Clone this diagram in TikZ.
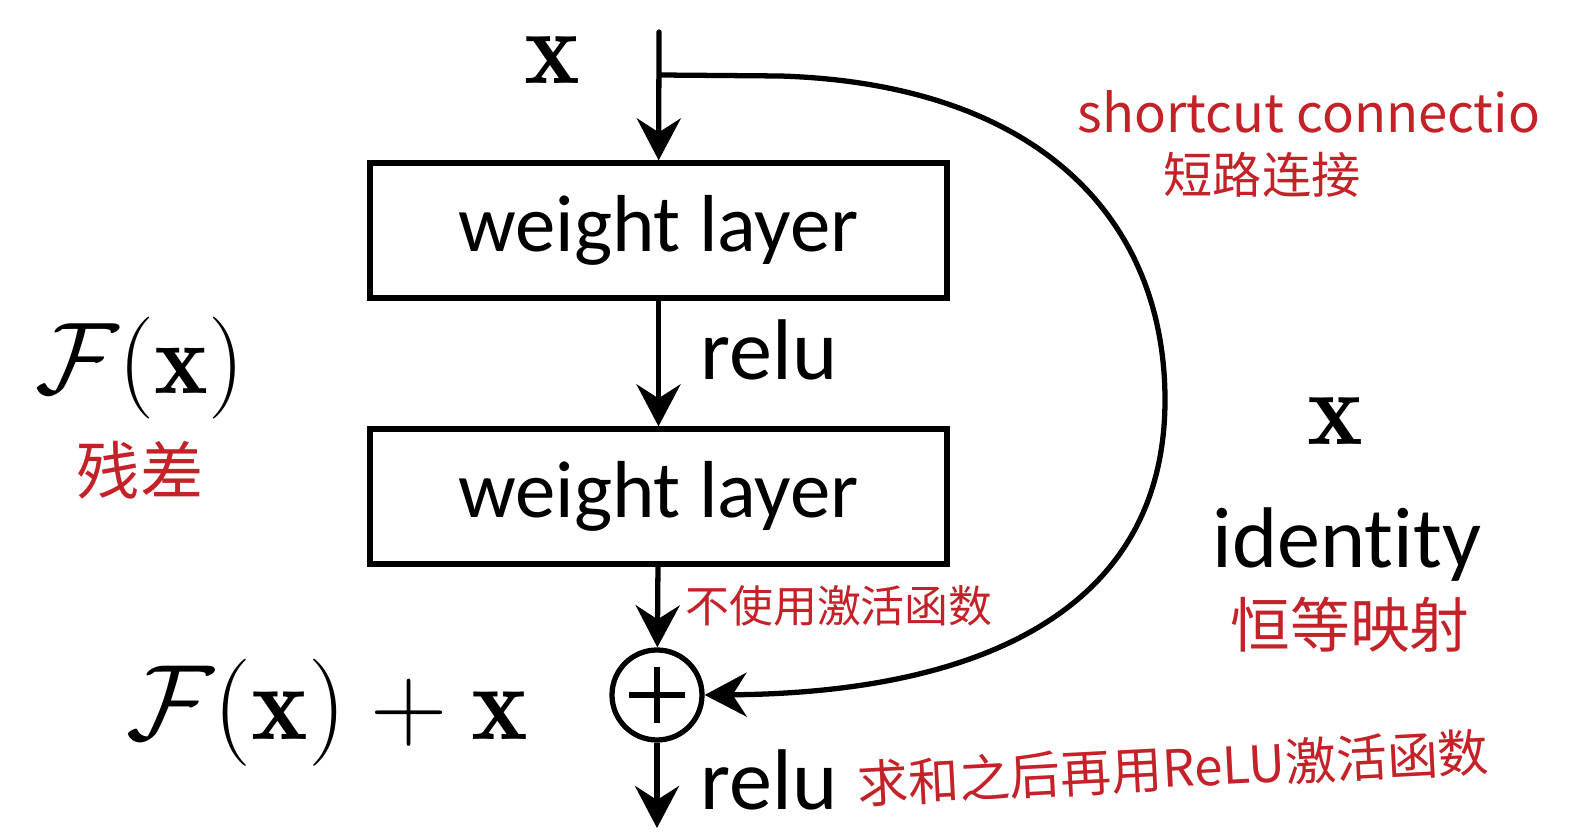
\RequirePackage{fix-cm}
\documentclass[tikz,border=0pt]{standalone}
\usepackage{fontspec}
\setsansfont{Carlito}[Ligatures={NoCommon,NoDiscretionary}]
\newfontfamily\cjk{Noto Sans CJK SC}
\usetikzlibrary{arrows.meta}
\definecolor{NoteRed}{HTML}{C42229}
\begin{document}
\begin{tikzpicture}[x=0.1mm,y=-0.1mm,
    wire/.style={line width=1.5pt},
    flow/.style={wire,-{Stealth[length=4.2mm,width=4.4mm,inset=1.4mm]}},
    layer/.style={draw,line width=1.5pt,minimum width=57.7mm,minimum height=13.5mm,font=\sffamily\fontsize{23}{28}\selectfont},
    note/.style={NoteRed,inner sep=0pt},
    lbl/.style={inner sep=0pt}]
        \useasboundingbox (0,0) rectangle (1571,840);
        \node[layer] (w1) at (658.5,230.5) {weight layer};
        \node[layer] (w2) at (658.5,496.5) {weight layer};
        \node[draw,circle,wire,minimum size=9mm,inner sep=0pt] (sum) at (657,695) {};
        \draw[wire] (sum.center) ++(-28,0) -- ++(56,0);
        \draw[wire] (sum.center) ++(0,-28) -- ++(0,56);
        \coordinate (in) at (659,32);
        \coordinate (split) at (659,75);
        \coordinate (out) at (657,828);
        \draw[flow,line cap=round] (in) -- (w1);
        \draw[flow] (w1) -- (w2);
        \draw[flow] (w2) -- (sum);
        \draw[flow] (sum) -- (out);
        \draw[flow] (split) -- (780,76) .. controls (1040,84) and (1165,220) .. (1165,400) .. controls (1165,610) and (980,693) .. (sum.east);
        % labels
        \node[lbl,font=\fontsize{30}{34}\selectfont] (xin) at (552,60) {$\mathbf{x}$};
        \node[lbl,font=\fontsize{30}{34}\selectfont] (xid) at (1335,421) {$\mathbf{x}$};
        \node[lbl,anchor=base,font=\sffamily\fontsize{24.5}{28}\selectfont] (ident) at (1347,568) {identity};
        \node[lbl,anchor=base west,font=\sffamily\fontsize{24.5}{28}\selectfont] (relu1) at (700,380) {relu};
        \node[lbl,anchor=base west,font=\sffamily\fontsize{24.5}{28}\selectfont] (relu2) at (700,810) {relu};
        \node[lbl,font=\fontsize{29}{33}\selectfont] (fx) at (140,368) {$\mathcal{F}(\mathbf{x})$};
        \node[lbl,font=\fontsize{30.5}{35}\selectfont] (fxx) at (327,713) {$\mathcal{F}(\mathbf{x})+\mathbf{x}$};
        % notes
        \node[note,anchor=base west,font=\cjk\fontsize{15}{17}\selectfont] (scname) at (1077,133) {shortcut connectio};
        \node[note,font=\cjk\fontsize{14}{16}\selectfont] (scnote) at (1262,175) {短路连接};
        \node[note,font=\cjk\fontsize{18}{20}\selectfont] (fxnote) at (140,470) {残差};
        \node[note,font=\cjk\fontsize{12.5}{14}\selectfont] (noact) at (839,606) {不使用激活函数};
        \node[note,font=\cjk\fontsize{17}{19}\selectfont] (idnote) at (1350,625) {恒等映射};
        \node[note,rotate=3,font=\cjk\fontsize{14.5}{16}\selectfont] (sumnote) at (1173,768) {求和之后再用ReLU激活函数};
\end{tikzpicture}
\end{document}
